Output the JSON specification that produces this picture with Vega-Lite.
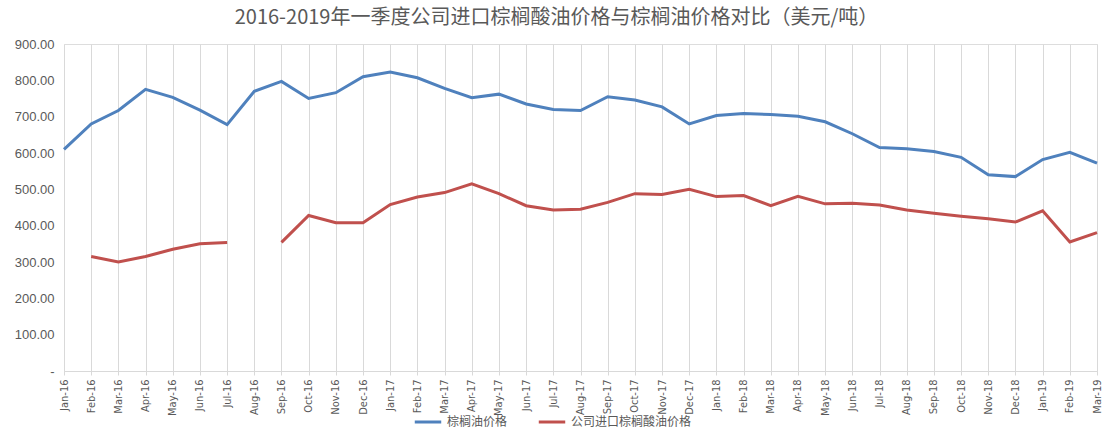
{
  "$schema": "https://vega.github.io/schema/vega-lite/v6.json",
  "width": 1033,
  "height": 327,
  "autosize": {"type": "none"},
  "padding": {"left": 64, "top": 44, "right": 9, "bottom": 59},
  "background": "white",
  "title": {
    "text": "2016-2019年一季度公司进口棕榈酸油价格与棕榈油价格对比（美元/吨）",
    "font": "Noto Sans CJK SC",
    "fontSize": 20,
    "fontWeight": "normal",
    "color": "#595959",
    "anchor": "middle",
    "frame": "group",
    "dx": -24,
    "offset": 10
  },
  "datasets": {
    "prices": [
      {"month": "Jan-16", "palm": 610, "acid": null},
      {"month": "Feb-16", "palm": 680, "acid": 315},
      {"month": "Mar-16", "palm": 717, "acid": 300},
      {"month": "Apr-16", "palm": 775, "acid": 315},
      {"month": "May-16", "palm": 753, "acid": 335},
      {"month": "Jun-16", "palm": 718, "acid": 350},
      {"month": "Jul-16", "palm": 678, "acid": 354},
      {"month": "Aug-16", "palm": 770, "acid": null},
      {"month": "Sep-16", "palm": 797, "acid": 354},
      {"month": "Oct-16", "palm": 750, "acid": 428},
      {"month": "Nov-16", "palm": 766, "acid": 408},
      {"month": "Dec-16", "palm": 810, "acid": 408},
      {"month": "Jan-17", "palm": 823, "acid": 458},
      {"month": "Feb-17", "palm": 807, "acid": 479},
      {"month": "Mar-17", "palm": 778, "acid": 491},
      {"month": "Apr-17", "palm": 752, "acid": 515},
      {"month": "May-17", "palm": 762, "acid": 488},
      {"month": "Jun-17", "palm": 735, "acid": 455},
      {"month": "Jul-17", "palm": 720, "acid": 443},
      {"month": "Aug-17", "palm": 717, "acid": 445},
      {"month": "Sep-17", "palm": 755, "acid": 464},
      {"month": "Oct-17", "palm": 746, "acid": 488},
      {"month": "Nov-17", "palm": 727, "acid": 486},
      {"month": "Dec-17", "palm": 680, "acid": 500},
      {"month": "Jan-18", "palm": 703, "acid": 480},
      {"month": "Feb-18", "palm": 709, "acid": 483},
      {"month": "Mar-18", "palm": 706, "acid": 455},
      {"month": "Apr-18", "palm": 701, "acid": 481},
      {"month": "May-18", "palm": 686, "acid": 460},
      {"month": "Jun-18", "palm": 653, "acid": 462},
      {"month": "Jul-18", "palm": 615, "acid": 457},
      {"month": "Aug-18", "palm": 612, "acid": 443},
      {"month": "Sep-18", "palm": 604, "acid": 434},
      {"month": "Oct-18", "palm": 588, "acid": 426},
      {"month": "Nov-18", "palm": 540, "acid": 419},
      {"month": "Dec-18", "palm": 535, "acid": 410},
      {"month": "Jan-19", "palm": 582, "acid": 441},
      {"month": "Feb-19", "palm": 602, "acid": 355},
      {"month": "Mar-19", "palm": 572, "acid": 381}
    ]
  },
  "data": {"name": "prices"},
  "transform": [
    {"fold": ["palm", "acid"], "as": ["key", "value"]},
    {"lookup": "key", "from": {"data": {"values": [{"key": "palm", "series": "棕榈油价格"}, {"key": "acid", "series": "公司进口棕榈酸油价格"}]}, "key": "key", "fields": ["series"]}}
  ],
  "mark": {"type": "line", "strokeWidth": 3, "invalid": "break-paths-show-domains"},
  "encoding": {
    "x": {
      "field": "month",
      "type": "ordinal",
      "sort": null,
      "scale": {"type": "point", "padding": 0},
      "axis": {
        "title": null,
        "labelAngle": -90,
        "labelFont": "DejaVu Sans Condensed",
        "labelFontSize": 11,
        "labelColor": "#595959",
        "labelPadding": 4,
        "grid": true,
        "gridColor": "#d9d9d9",
        "gridWidth": 1,
        "domainColor": "#d9d9d9",
        "tickColor": "#d9d9d9",
        "tickSize": 4
      }
    },
    "y": {
      "field": "value",
      "type": "quantitative",
      "scale": {"domain": [0, 900], "nice": false},
      "axis": {
        "title": null,
        "values": [0, 100, 200, 300, 400, 500, 600, 700, 800, 900],
        "labelExpr": "datum.value == 0 ? '-' : format(datum.value, '.2f')",
        "labelFont": "Liberation Sans",
        "labelFontSize": 13,
        "labelColor": "#595959",
        "grid": false,
        "domain": false,
        "ticks": false,
        "labelPadding": 10
      }
    },
    "color": {
      "field": "series",
      "type": "nominal",
      "scale": {"domain": ["棕榈油价格", "公司进口棕榈酸油价格"], "range": ["#4f81bd", "#c0504d"]},
      "legend": {
        "title": null,
        "orient": "none",
        "direction": "horizontal",
        "legendX": 349,
        "legendY": 363,
        "symbolType": "stroke",
        "symbolSize": 700,
        "symbolStrokeWidth": 3,
        "labelFont": "Noto Sans CJK SC",
        "labelFontSize": 12,
        "labelColor": "#595959",
        "columnPadding": 24
      }
    }
  }
}
